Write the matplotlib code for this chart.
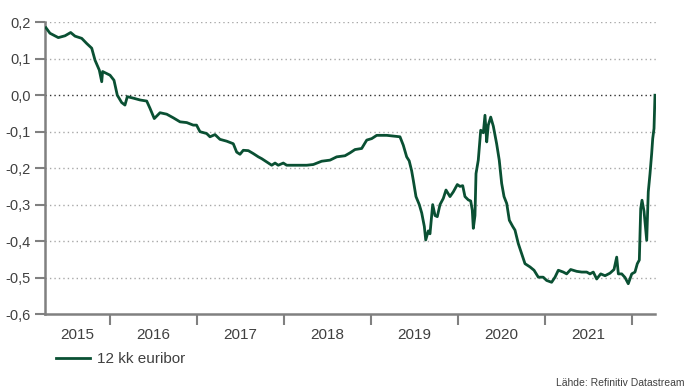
"""
12 kk euribor 2015-2022, viivakaavio.
"""
import numpy as np
import matplotlib
matplotlib.use("Agg")
import matplotlib.pyplot as plt
from matplotlib.ticker import FixedLocator, FuncFormatter

plt.rcParams.update({"font.family": ["Liberation Sans", "DejaVu Sans"]})

# ---- data (decimal year, %) ----
vuosi = [2015.264, 2015.310, 2015.406, 2015.483, 2015.548, 2015.598, 2015.675, 2015.732,
         2015.790, 2015.828, 2015.877, 2015.905, 2015.915, 2016.000, 2016.046, 2016.084,
         2016.134, 2016.172, 2016.199, 2016.268, 2016.345, 2016.422, 2016.460, 2016.509,
         2016.575, 2016.652, 2016.728, 2016.805, 2016.882, 2016.957, 2016.995, 2017.034,
         2017.111, 2017.149, 2017.207, 2017.264, 2017.341, 2017.417, 2017.456, 2017.494,
         2017.532, 2017.590, 2017.647, 2017.705, 2017.744, 2017.801, 2017.859, 2017.897,
         2017.934, 2017.992, 2018.031, 2018.146, 2018.261, 2018.337, 2018.433, 2018.529,
         2018.606, 2018.701, 2018.759, 2018.816, 2018.893, 2018.951, 2019.008, 2019.066,
         2019.180, 2019.218, 2019.333, 2019.371, 2019.410, 2019.439, 2019.467, 2019.486,
         2019.517, 2019.555, 2019.583, 2019.613, 2019.629, 2019.659, 2019.678, 2019.709,
         2019.736, 2019.762, 2019.793, 2019.831, 2019.862, 2019.908, 2019.946, 2019.992,
         2020.023, 2020.054, 2020.080, 2020.118, 2020.146, 2020.164, 2020.176, 2020.195,
         2020.207, 2020.233, 2020.261, 2020.291, 2020.310, 2020.330, 2020.348, 2020.376,
         2020.406, 2020.444, 2020.474, 2020.502, 2020.529, 2020.560, 2020.590, 2020.629,
         2020.655, 2020.693, 2020.732, 2020.770, 2020.828, 2020.874, 2020.923, 2020.979,
         2021.019, 2021.076, 2021.115, 2021.153, 2021.210, 2021.249, 2021.295, 2021.364,
         2021.422, 2021.479, 2021.517, 2021.555, 2021.594, 2021.640, 2021.690, 2021.747,
         2021.793, 2021.824, 2021.843, 2021.882, 2021.920, 2021.957, 2021.997, 2022.034,
         2022.061, 2022.084, 2022.100, 2022.115, 2022.138, 2022.169, 2022.187, 2022.207,
         2022.226, 2022.238, 2022.253, 2022.264]
euribor = [0.185, 0.170, 0.158, 0.163, 0.172, 0.162, 0.156, 0.142,
           0.129, 0.096, 0.069, 0.037, 0.065, 0.055, 0.041, 0.000,
           -0.020, -0.027, -0.004, -0.008, -0.013, -0.016, -0.036, -0.064,
           -0.048, -0.052, -0.062, -0.073, -0.075, -0.082, -0.082, -0.100,
           -0.105, -0.114, -0.108, -0.121, -0.126, -0.133, -0.156, -0.162,
           -0.151, -0.152, -0.160, -0.169, -0.174, -0.183, -0.192, -0.186,
           -0.192, -0.186, -0.192, -0.192, -0.192, -0.190, -0.181, -0.178,
           -0.169, -0.166, -0.158, -0.149, -0.146, -0.123, -0.119, -0.110,
           -0.110, -0.111, -0.114, -0.137, -0.169, -0.180, -0.207, -0.233,
           -0.278, -0.300, -0.323, -0.360, -0.397, -0.372, -0.380, -0.300,
           -0.330, -0.333, -0.300, -0.283, -0.260, -0.278, -0.265, -0.245,
           -0.250, -0.248, -0.278, -0.287, -0.290, -0.315, -0.365, -0.330,
           -0.215, -0.178, -0.096, -0.103, -0.055, -0.128, -0.082, -0.060,
           -0.085, -0.133, -0.178, -0.242, -0.278, -0.297, -0.343, -0.360,
           -0.370, -0.407, -0.435, -0.462, -0.471, -0.480, -0.499, -0.499,
           -0.508, -0.513, -0.499, -0.480, -0.485, -0.490, -0.478, -0.483,
           -0.485, -0.485, -0.490, -0.485, -0.504, -0.490, -0.495, -0.488,
           -0.478, -0.444, -0.490, -0.490, -0.500, -0.517, -0.490, -0.485,
           -0.462, -0.452, -0.311, -0.288, -0.318, -0.398, -0.265, -0.215,
           -0.160, -0.119, -0.091, 0.000]

vuodet = [2015, 2016, 2017, 2018, 2019, 2020, 2021]
y_ticks = [0.2, 0.1, 0.0, -0.1, -0.2, -0.3, -0.4, -0.5, -0.6]

VIHREA = "#0a5033"
HARMAA = "#808080"
TEKSTI = "#404040"
x0, x1 = 2015.253, 2022.27

fig = plt.figure(figsize=(6.88, 3.91), dpi=100)
ax = fig.add_axes([45 / 688, 1 - 314 / 391, (655.5 - 45) / 688, (314 - 22.3) / 391])

# gridlines
for v in y_ticks[:-1]:
    ax.axhline(v, color="#303030" if v == 0 else "#a8a8a8", lw=1.0,
               ls=(0, (1, 2.2)), zorder=1)

ax.plot(vuosi, euribor, color=VIHREA, lw=2.0, zorder=3, label="12 kk euribor")

ax.set_xlim(x0, x1)
ax.set_ylim(-0.6, 0.2)
for s in ["top", "right"]:
    ax.spines[s].set_visible(False)
for s in ["left", "bottom"]:
    ax.spines[s].set_color(HARMAA)
    ax.spines[s].set_linewidth(1.8)

ax.yaxis.set_major_locator(FixedLocator(y_ticks))
ax.yaxis.set_major_formatter(FuncFormatter(lambda v, p: f"{v:.1f}".replace(".", ",").replace("-0,0", "0,0")))
ax.tick_params(axis="y", length=7, width=1.5, color=HARMAA, labelsize=10.5,
               labelcolor=TEKSTI, pad=3)

# year ticks at boundaries, labels centred in each year
ax.xaxis.set_major_locator(FixedLocator(list(range(2016, 2023))))
ax.xaxis.set_major_formatter(FuncFormatter(lambda v, p: ""))
keskit = [(x0 + 2016) / 2] + [y + 0.5 for y in vuodet[1:]]
ax.xaxis.set_minor_locator(FixedLocator(keskit))
ax.xaxis.set_minor_formatter(FuncFormatter(lambda v, p: str(vuodet[p]) if p is not None else ""))
ax.set_xticks(keskit, [str(y) for y in vuodet], minor=True)
ax.tick_params(axis="x", which="major", length=8, width=1.5, color=HARMAA, direction="out")
ax.tick_params(axis="x", which="minor", length=0, labelsize=11, labelcolor=TEKSTI, pad=10)

ax.legend(loc="center left", bbox_to_anchor=(56 / 688, 1 - 359 / 391),
          bbox_transform=fig.transFigure, frameon=False, fontsize=11,
          handlelength=2.2, handletextpad=0.5, borderpad=0, borderaxespad=0,
          labelcolor=TEKSTI)

fig.text(685 / 688, 1 - 383 / 391, "Lähde: Refinitiv Datastream", ha="right", va="center",
         fontsize=7.5, color=TEKSTI)

plt.savefig("out.png", dpi=100)
plt.close()
